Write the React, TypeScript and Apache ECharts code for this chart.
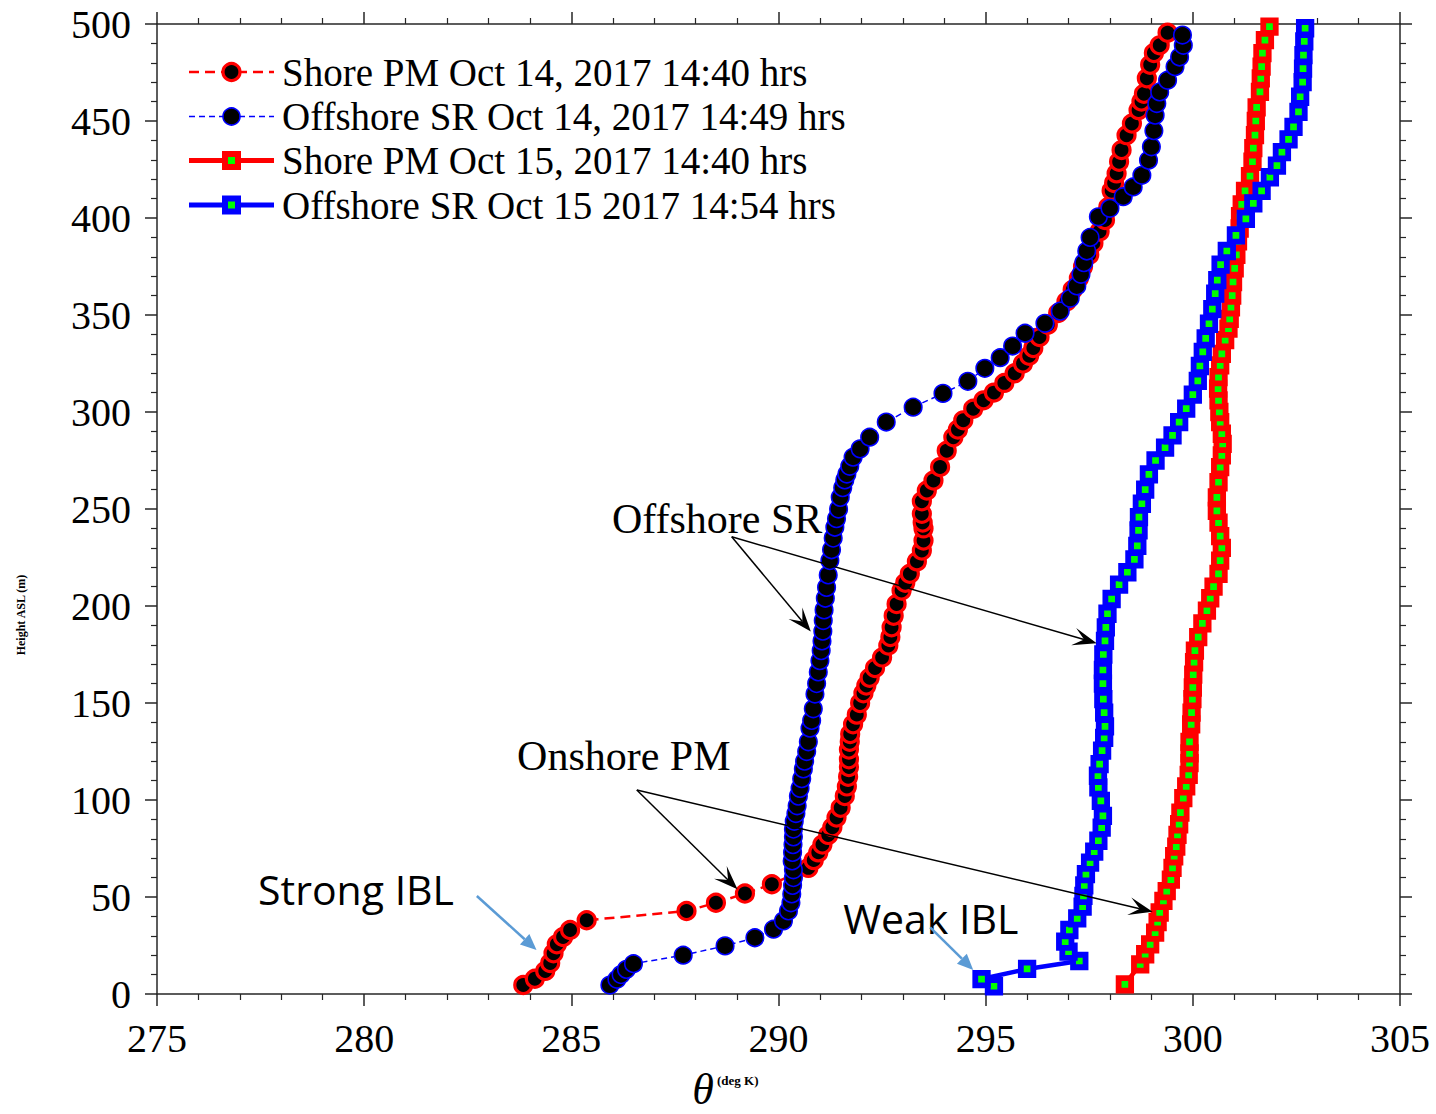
import React, { useEffect, useRef } from "react";
import * as echarts from "echarts";

// ---------- data: [theta (K), height ASL (m)] ----------
const shorePM14: number[][] = [
  [283.84, 4.6], [284.12, 7.9], [284.37, 11.9], [284.49, 16], [284.57, 21], [284.65, 25.6], [284.8, 29.4], [284.97, 33], [285.37, 38],
  [287.78, 42.8], [288.49, 47], [289.19, 51.8], [289.84, 56.6], [290.72, 65], [290.85, 69], [290.96, 73], [291.06, 77], [291.2, 82],
  [291.3, 86], [291.4, 91], [291.5, 96], [291.6, 102], [291.65, 107], [291.68, 112], [291.7, 117], [291.7, 121], [291.7, 126],
  [291.72, 130], [291.73, 134], [291.8, 139], [291.89, 144], [291.97, 150], [292.05, 155], [292.12, 159], [292.2, 163], [292.33, 168],
  [292.5, 173.5], [292.65, 179.6], [292.7, 184], [292.73, 189], [292.78, 195], [292.85, 201], [292.97, 208], [293.06, 212],
  [293.17, 216.6], [293.34, 223], [293.46, 228.6], [293.5, 233.7], [293.5, 240], [293.48, 243], [293.46, 247.5], [293.46, 254],
  [293.58, 259.5], [293.74, 264.7], [293.9, 271.6], [294.06, 280], [294.22, 287], [294.33, 291], [294.46, 295.7], [294.7, 301.7],
  [294.95, 306], [295.2, 310], [295.45, 315], [295.7, 320], [295.9, 325], [296.05, 329], [296.15, 333], [296.3, 338.6], [296.5, 345],
  [296.75, 351], [296.95, 357], [297.1, 363], [297.25, 369], [297.35, 375], [297.5, 381], [297.6, 387], [297.75, 393], [297.88, 399],
  [297.96, 405.7], [298.04, 414], [298.1, 418], [298.16, 423], [298.22, 429], [298.28, 435], [298.4, 442.7], [298.53, 448.7],
  [298.69, 455.6], [298.76, 460], [298.82, 464], [298.89, 472], [298.97, 479], [299.06, 485], [299.2, 489], [299.39, 495.5],
];

const offshoreSR14: number[][] = [
  [285.93, 4.6], [286.1, 7.6], [286.2, 10], [286.33, 12.7], [286.5, 15.6], [287.7, 20], [288.71, 24.8], [289.43, 29], [289.88, 33.4],
  [290.12, 37.7], [290.24, 42.8], [290.3, 47], [290.32, 51.6], [290.34, 56], [290.36, 60], [290.36, 64], [290.33, 68.6], [290.34, 73],
  [290.35, 77], [290.36, 81], [290.36, 85], [290.38, 89], [290.42, 93], [290.45, 97], [290.48, 102], [290.52, 106], [290.56, 111],
  [290.6, 116], [290.63, 120], [290.68, 125], [290.72, 130], [290.76, 137], [290.8, 141], [290.84, 147], [290.88, 154.6], [290.92, 160],
  [290.96, 166], [291.0, 171.8], [291.03, 177], [291.05, 182], [291.07, 187], [291.08, 192.5], [291.1, 198], [291.13, 204],
  [291.16, 209.6], [291.2, 216], [291.24, 223.4], [291.28, 229], [291.32, 235], [291.36, 240.6], [291.4, 245], [291.45, 250],
  [291.49, 256], [291.55, 261], [291.6, 265], [291.65, 268], [291.72, 272], [291.8, 276.7], [291.97, 281], [292.2, 287],
  [292.6, 294.8], [293.25, 302.5], [293.97, 309.6], [294.57, 315.8], [294.98, 322.5], [295.35, 328], [295.65, 334], [295.95, 340.6],
  [296.43, 345.7], [296.8, 352], [297.04, 358.6], [297.2, 365], [297.3, 371], [297.37, 377], [297.44, 383], [297.52, 390],
  [297.72, 400.6], [298.0, 405], [298.32, 411], [298.56, 416], [298.77, 422], [298.93, 429.8], [299.0, 436.7], [299.06, 445],
  [299.09, 453], [299.13, 459], [299.2, 465], [299.39, 471], [299.57, 478], [299.68, 483], [299.77, 489], [299.75, 494.3],
];

const shorePM15: number[][] = [
  [298.36, 5], [298.73, 15.3], [298.85, 20.5], [298.97, 25.6], [299.09, 31.6], [299.15, 37], [299.2, 42], [299.29, 48], [299.37, 53],
  [299.47, 59], [299.51, 65], [299.55, 71], [299.6, 76], [299.63, 82], [299.67, 87.5], [299.7, 93.5], [299.77, 101], [299.84, 107],
  [299.9, 113], [299.92, 119], [299.92, 124], [299.92, 130], [299.96, 139], [299.97, 145], [299.99, 152], [300.0, 158],
  [300.01, 164.6], [300.03, 171], [300.05, 177], [300.13, 184], [300.23, 191], [300.34, 197.6], [300.42, 204], [300.5, 210],
  [300.62, 216.6], [300.66, 223.4], [300.7, 230], [300.66, 236], [300.62, 243], [300.58, 249], [300.58, 256], [300.62, 263.8],
  [300.66, 271.6], [300.7, 277.6], [300.72, 283.6], [300.7, 288.8], [300.66, 294.8], [300.64, 300], [300.62, 306], [300.61, 312],
  [300.62, 318], [300.66, 324], [300.7, 330], [300.78, 337], [300.86, 343], [300.89, 348], [300.92, 354], [300.95, 360],
  [300.97, 367], [301.01, 374], [301.05, 381], [301.09, 388], [301.13, 394.6], [301.14, 401], [301.18, 407], [301.26, 414],
  [301.38, 421.6], [301.44, 429], [301.46, 436], [301.5, 442.7], [301.52, 450], [301.54, 457], [301.62, 465], [301.64, 472],
  [301.66, 478], [301.68, 485], [301.74, 491.7], [301.85, 498.6],
];

const offshoreSR15: number[][] = [
  [295.2, 4], [294.9, 7.7], [296.0, 12.9], [297.26, 17], [297.0, 21.8], [296.92, 27], [297.02, 33], [297.21, 39], [297.34, 45],
  [297.36, 50.6], [297.38, 56], [297.42, 61.8], [297.52, 67.7], [297.62, 73.4], [297.72, 79], [297.8, 85.8], [297.83, 91.8],
  [297.78, 99.6], [297.72, 106.5], [297.71, 112.5], [297.75, 118.5], [297.81, 125.4], [297.86, 132], [297.88, 138], [297.86, 145],
  [297.84, 152], [297.83, 160], [297.83, 167], [297.84, 175], [297.88, 182], [297.9, 189], [297.94, 196], [298.04, 203.6],
  [298.22, 211], [298.42, 217.4], [298.59, 224], [298.66, 231], [298.69, 239], [298.7, 245.8], [298.77, 252.7], [298.85, 260],
  [298.94, 267.8], [299.1, 275], [299.33, 281.6], [299.51, 288], [299.67, 294.8], [299.84, 301.7], [300.0, 309], [300.12, 316],
  [300.17, 323.7], [300.24, 331], [300.31, 338], [300.39, 345.5], [300.47, 353], [300.54, 361], [300.59, 368], [300.67, 376],
  [300.82, 383], [301.04, 391], [301.28, 399.5], [301.46, 407.5], [301.66, 414], [301.86, 421], [302.03, 427], [302.15, 434],
  [302.31, 440.5], [302.43, 447], [302.55, 454.7], [302.59, 462.5], [302.65, 470], [302.66, 477], [302.67, 484], [302.69, 491],
  [302.71, 497.8],
];

const seriesNames = [
  "Shore PM Oct 14, 2017 14:40 hrs",
  "Offshore SR Oct 14, 2017 14:49 hrs",
  "Shore PM Oct 15, 2017 14:40 hrs",
  "Offshore SR Oct 15 2017 14:54 hrs",
];

// annotation anchors in data coordinates [theta, height]
const annoTexts = [
  { text: "Offshore SR", at: [285.98, 244.8], kind: "serif" },
  { text: "Onshore PM", at: [283.69, 122.7], kind: "serif" },
  { text: "Strong IBL", at: [277.44, 54.1], kind: "sans" },
  { text: "Weak IBL", at: [291.56, 39.2], kind: "sans" },
];
const blackArrows = [
  { from: [288.87, 235.7], to: [290.78, 186.8] },
  { from: [288.87, 235.7], to: [297.68, 180.8] },
  { from: [286.58, 105.2], to: [289.01, 54.0] },
  { from: [286.58, 105.2], to: [299.03, 42.4] },
];
const blueArrows = [
  { from: [282.72, 50.5], to: [284.16, 22.7] },
  { from: [293.66, 34.4], to: [294.7, 12.4] },
];

const AXIS = "#262626";
const SERIF = "'Liberation Serif', 'Times New Roman', serif";
const SANS = "'Open Sans', 'Noto Sans', sans-serif";

function axisCommon(extra: any) {
  return {
    type: "value",
    axisLine: { show: true, onZero: false, lineStyle: { color: AXIS, width: 1.5 } },
    axisTick: { show: true, inside: false, length: 12, lineStyle: { color: AXIS, width: 1.5 } },
    minorTick: { show: true, splitNumber: 5, length: 6, lineStyle: { color: AXIS, width: 1.2 } },
    splitLine: { show: false },
    ...extra,
  };
}

function arrowHead(p0: number[], p1: number[], L: number, W: number, notch: number) {
  const dx = p1[0] - p0[0];
  const dy = p1[1] - p0[1];
  const len = Math.hypot(dx, dy);
  const ux = dx / len, uy = dy / len;
  const nx = -uy, ny = ux;
  const bx = p1[0] - ux * L, by = p1[1] - uy * L;
  const mx = p1[0] - ux * L * notch, my = p1[1] - uy * L * notch;
  return {
    points: [
      [p1[0], p1[1]],
      [bx + nx * W, by + ny * W],
      [mx, my],
      [bx - nx * W, by - ny * W],
    ],
    lineEnd: [mx, my],
  };
}

export default function App() {
  const ref = useRef<HTMLDivElement>(null);
  useEffect(() => {
    document.body.style.margin = "0";
    const chart = echarts.init(ref.current!, null, { renderer: "svg" });
    const option: any = {
      animation: false,
      backgroundColor: "#ffffff",
      grid: { left: 157, right: 36, top: 24, bottom: 120, containLabel: false },
      xAxis: [
        axisCommon({
          position: "bottom",
          min: 275,
          max: 305,
          interval: 5,
          axisLabel: { show: true, margin: 24, color: "#000", fontFamily: SERIF, fontSize: 40 },
        }),
        axisCommon({ position: "top", min: 275, max: 305, interval: 5, axisLabel: { show: false } }),
      ],
      yAxis: [
        axisCommon({
          position: "left",
          min: 0,
          max: 500,
          interval: 50,
          axisLabel: { show: true, margin: 26, color: "#000", fontFamily: SERIF, fontSize: 40 },
        }),
        axisCommon({ position: "right", min: 0, max: 500, interval: 50, axisLabel: { show: false } }),
      ],
      series: [
        {
          name: seriesNames[0],
          type: "line",
          data: shorePM14,
          symbol: "circle",
          symbolSize: 17,
          itemStyle: { color: "#000000", borderColor: "#ff0000", borderWidth: 3.2 },
          lineStyle: { color: "#ff0000", width: 2.5, type: [10, 6] },
          clip: false,
          z: 2,
        },
        {
          name: seriesNames[1],
          type: "line",
          data: offshoreSR14,
          symbol: "circle",
          symbolSize: 17.5,
          itemStyle: { color: "#000000", borderColor: "#0000ff", borderWidth: 1.6 },
          lineStyle: { color: "#0000ff", width: 1.5, type: [6, 4] },
          clip: false,
          z: 3,
        },
        {
          name: seriesNames[2],
          type: "line",
          data: shorePM15,
          symbol: "rect",
          symbolSize: 12.5,
          itemStyle: { color: "#00ff00", borderColor: "#ff0000", borderWidth: 5.8 },
          lineStyle: { color: "#ff0000", width: 4.5 },
          clip: false,
          z: 4,
        },
        {
          name: seriesNames[3],
          type: "line",
          data: offshoreSR15,
          symbol: "rect",
          symbolSize: 12.5,
          itemStyle: { color: "#00ff00", borderColor: "#0000ff", borderWidth: 5.8 },
          lineStyle: { color: "#0000ff", width: 4.5 },
          clip: false,
          z: 5,
        },
      ],
    };
    chart.setOption(option);

    const toPx = (p: number[]) => chart.convertToPixel({ seriesIndex: 0 }, p) as number[];
    const g: any[] = [];

    // legend
    const legendRows = [72, 116.5, 160.5, 205];
    const lx0 = 189, lx1 = 274, lmx = 231.5, ltx = 282;
    const legendStyles = [
      { stroke: "#ff0000", lw: 2.5, dash: [10, 6], marker: "circle", fill: "#000", edge: "#ff0000", ew: 3.2 },
      { stroke: "#0000ff", lw: 1.5, dash: [6, 4], marker: "circle", fill: "#000", edge: "#0000ff", ew: 1.6 },
      { stroke: "#ff0000", lw: 5, dash: null, marker: "rect", fill: "#00ff00", edge: "#ff0000", ew: 6 },
      { stroke: "#0000ff", lw: 5, dash: null, marker: "rect", fill: "#00ff00", edge: "#0000ff", ew: 6 },
    ];
    legendRows.forEach((ly, i) => {
      const s = legendStyles[i];
      g.push({
        type: "line",
        z: 100,
        shape: { x1: lx0, y1: ly, x2: lx1, y2: ly },
        style: { stroke: s.stroke, lineWidth: s.lw, lineDash: s.dash || undefined },
      });
      if (s.marker === "circle") {
        g.push({
          type: "circle",
          z: 101,
          shape: { cx: lmx, cy: ly, r: 8.5 },
          style: { fill: s.fill, stroke: s.edge, lineWidth: s.ew },
        });
      } else {
        g.push({
          type: "rect",
          z: 101,
          shape: { x: lmx - 6.5, y: ly - 6.5, width: 13, height: 13 },
          style: { fill: s.fill, stroke: s.edge, lineWidth: s.ew },
        });
      }
      g.push({
        type: "text",
        z: 101,
        x: ltx,
        y: ly,
        style: { text: seriesNames[i], fontFamily: SERIF, fontSize: 39, fill: "#000", align: "left", verticalAlign: "middle" },
      });
    });

    // annotation texts
    annoTexts.forEach((a) => {
      const p = toPx(a.at);
      g.push({
        type: "text",
        z: 110,
        x: p[0],
        y: p[1],
        style: {
          text: a.text,
          fontFamily: a.kind === "serif" ? SERIF : SANS,
          fontSize: a.kind === "serif" ? 42 : 41,
          fill: "#000",
          align: "left",
          verticalAlign: "middle",
        },
      });
    });

    // black arrows (MATLAB vback2 heads)
    blackArrows.forEach((a) => {
      const p0 = toPx(a.from);
      const p1 = toPx(a.to);
      const h = arrowHead(p0, p1, 24, 9, 0.55);
      g.push({
        type: "line",
        z: 110,
        shape: { x1: p0[0], y1: p0[1], x2: h.lineEnd[0], y2: h.lineEnd[1] },
        style: { stroke: "#000", lineWidth: 1.5 },
      });
      g.push({ type: "polygon", z: 111, shape: { points: h.points }, style: { fill: "#000" } });
    });

    // light blue arrows
    blueArrows.forEach((a) => {
      const p0 = toPx(a.from);
      const p1 = toPx(a.to);
      const h = arrowHead(p0, p1, 16, 7, 1);
      g.push({
        type: "line",
        z: 110,
        shape: { x1: p0[0], y1: p0[1], x2: h.lineEnd[0], y2: h.lineEnd[1] },
        style: { stroke: "#5b9bd5", lineWidth: 2.5 },
      });
      g.push({ type: "polygon", z: 111, shape: { points: h.points }, style: { fill: "#5b9bd5" } });
    });

    // axis titles
    g.push({
      type: "text",
      z: 100,
      x: 21,
      y: 615,
      rotation: Math.PI / 2,
      style: {
        text: "Height ASL (m)",
        fontFamily: SERIF,
        fontWeight: "bold",
        fontSize: 12,
        fill: "#000",
        align: "center",
        verticalAlign: "middle",
      },
    });
    g.push({
      type: "text",
      z: 100,
      x: 703,
      y: 1089,
      style: {
        text: "θ",
        fontFamily: SERIF,
        fontStyle: "italic",
        fontSize: 44,
        fill: "#000",
        align: "center",
        verticalAlign: "middle",
      },
    });
    g.push({
      type: "text",
      z: 100,
      x: 717,
      y: 1080,
      style: {
        text: "(deg K)",
        fontFamily: SERIF,
        fontWeight: "bold",
        fontSize: 13,
        fill: "#000",
        align: "left",
        verticalAlign: "middle",
      },
    });

    chart.setOption({ graphic: g });
    return () => chart.dispose();
  }, []);
  return <div ref={ref} style={{ width: 1436, height: 1114 }} />;
}
